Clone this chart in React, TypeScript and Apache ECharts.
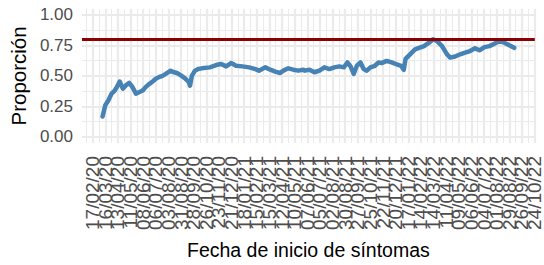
import React, { useEffect, useRef } from "react";
import * as echarts from "echarts";

const dates: string[] = [
  "2020-03-10", "2020-03-16", "2020-03-23", "2020-03-30", "2020-04-06", "2020-04-11", "2020-04-17", "2020-04-24",
  "2020-05-02", "2020-05-08", "2020-05-15", "2020-05-23", "2020-05-31", "2020-06-07", "2020-06-14", "2020-06-22",
  "2020-06-29", "2020-07-06", "2020-07-13", "2020-07-21", "2020-07-28", "2020-08-08", "2020-08-15", "2020-08-22",
  "2020-08-29", "2020-09-09", "2020-09-17", "2020-09-20", "2020-09-24", "2020-10-01", "2020-10-08", "2020-10-16",
  "2020-11-03", "2020-11-17", "2020-11-28", "2020-12-09", "2020-12-20", "2020-12-31", "2021-01-14", "2021-01-29",
  "2021-02-12", "2021-02-20", "2021-03-06", "2021-03-17", "2021-03-28", "2021-04-08", "2021-04-15", "2021-04-26",
  "2021-05-07", "2021-05-18", "2021-05-29", "2021-06-01", "2021-06-12", "2021-06-23", "2021-07-04", "2021-07-15",
  "2021-07-26", "2021-08-06", "2021-08-17", "2021-08-27", "2021-09-04", "2021-09-11", "2021-09-18", "2021-09-25",
  "2021-10-03", "2021-10-10", "2021-10-17", "2021-10-25", "2021-11-04", "2021-11-12", "2021-11-19", "2021-11-30",
  "2021-12-11", "2021-12-21", "2022-01-01", "2022-01-07", "2022-01-11", "2022-01-21", "2022-02-01", "2022-02-10",
  "2022-02-21", "2022-03-04", "2022-03-13", "2022-03-22", "2022-04-02", "2022-04-13", "2022-04-20", "2022-05-01",
  "2022-05-12", "2022-05-23", "2022-06-03", "2022-06-14", "2022-06-24", "2022-07-05", "2022-07-16", "2022-07-27",
  "2022-08-07", "2022-08-18", "2022-08-29", "2022-09-09",
];

const proporcion: number[] = [
  0.167, 0.26, 0.3, 0.355, 0.38, 0.41, 0.454, 0.395,
  0.427, 0.443, 0.41, 0.355, 0.368, 0.38, 0.41, 0.435,
  0.454, 0.476, 0.49, 0.5, 0.516, 0.543, 0.53, 0.524,
  0.508, 0.48, 0.45, 0.42, 0.5, 0.543, 0.556, 0.562,
  0.57, 0.589, 0.597, 0.578, 0.605, 0.583, 0.578, 0.57,
  0.556, 0.543, 0.57, 0.551, 0.535, 0.524, 0.543, 0.562,
  0.551, 0.543, 0.551, 0.543, 0.551, 0.53, 0.543, 0.57,
  0.556, 0.57, 0.578, 0.57, 0.61, 0.578, 0.516, 0.583,
  0.61, 0.556, 0.543, 0.57, 0.583, 0.61, 0.605, 0.623,
  0.61, 0.597, 0.583, 0.55, 0.64, 0.677, 0.718, 0.73,
  0.744, 0.772, 0.8, 0.785, 0.744, 0.677, 0.65, 0.659,
  0.677, 0.69, 0.704, 0.726, 0.71, 0.736, 0.744, 0.764,
  0.785, 0.772, 0.752, 0.73,
];

const xBreaks: string[] = [
  "2020-02-17", "2020-03-16", "2020-04-13", "2020-05-11", "2020-06-08", "2020-07-06", "2020-08-03", "2020-08-31",
  "2020-09-28", "2020-10-26", "2020-11-23", "2020-12-21", "2021-01-18", "2021-02-15", "2021-03-15", "2021-04-12",
  "2021-05-10", "2021-06-07", "2021-07-05", "2021-08-02", "2021-08-30", "2021-09-27", "2021-10-25", "2021-11-22",
  "2021-12-20", "2022-01-17", "2022-02-14", "2022-03-14", "2022-04-11", "2022-05-09", "2022-06-06", "2022-07-04",
  "2022-08-01", "2022-08-29", "2022-09-26", "2022-10-24",
];

const yBreaks: number[] = [0, 0.25, 0.5, 0.75, 1];
const meta = 0.8;

const DAY = 86400000;
const toMs = (s: string) => {
  const [y, m, d] = s.split("-").map(Number);
  return Date.UTC(y, m - 1, d);
};
const pad = (n: number) => (n < 10 ? "0" + n : "" + n);
const fmt = (v: number) => {
  const d = new Date(v);
  return pad(d.getUTCDate()) + "/" + pad(d.getUTCMonth() + 1) + "/" + pad(d.getUTCFullYear() % 100);
};

export default function App() {
  const ref = useRef<HTMLDivElement>(null);
  useEffect(() => {
    if (!ref.current) return;
    const chart = echarts.init(ref.current, null, { renderer: "svg" });
    const xs = dates.map(toMs);
    const x0 = xs[0];
    const x1 = xs[xs.length - 1];
    const span = x1 - x0;
    const xMin = x0 - span * 0.05;
    const xMax = x1 + span * 0.05;
    const majorX = xBreaks.map(toMs);
    const evenX = majorX.filter((_, i) => i % 2 === 0);
    const oddX = majorX.filter((_, i) => i % 2 === 1);
    const minorX: number[] = [];
    for (let i = -1; i < majorX.length; i++) {
      const base = i < 0 ? majorX[0] - 28 * DAY : majorX[i];
      const m = base + 14 * DAY;
      if (m > xMin && m < xMax) minorX.push(m);
    }
    const minorY: number[] = [];
    for (let i = 0; i < yBreaks.length - 1; i++) minorY.push((yBreaks[i] + yBreaks[i + 1]) / 2);

    const font = "'Liberation Sans', Arial, sans-serif";
    const xLabel = (vals: number[]) => ({
      customValues: vals,
      rotate: 90,
      margin: 13,
      formatter: (v: number) => fmt(v),
      fontFamily: font,
      fontSize: 19,
      color: "#4D4D4D",
      hideOverlap: false,
      showMinLabel: true,
      showMaxLabel: true,
    });
    chart.setOption({
      animation: false,
      backgroundColor: "#ffffff",
      grid: { left: 78.3, right: 2.3, top: 8.8, bottom: 119.8, containLabel: false },
      xAxis: [
        {
          type: "value",
          position: "bottom",
          min: xMin,
          max: xMax,
          name: "Fecha de inicio de síntomas",
          nameLocation: "middle",
          nameGap: 97,
          nameTextStyle: { fontFamily: font, fontSize: 19.5, color: "#000000" },
          axisLine: { show: false },
          axisTick: { show: false, customValues: majorX },
          axisLabel: { show: false },
          splitLine: { show: true, lineStyle: { color: "#EBEBEB", width: 2.2 } },
        },
        {
          type: "value",
          position: "bottom",
          min: xMin,
          max: xMax,
          axisLine: { show: false },
          axisLabel: { show: false },
          axisTick: { show: false, customValues: minorX },
          splitLine: { show: true, lineStyle: { color: "#EBEBEB", width: 1.1 } },
        },
        {
          type: "value",
          position: "bottom",
          min: xMin,
          max: xMax,
          axisLine: { show: false },
          axisTick: { show: false, customValues: evenX },
          axisLabel: xLabel(evenX),
          splitLine: { show: false },
        },
        {
          type: "value",
          position: "bottom",
          min: xMin,
          max: xMax,
          axisLine: { show: false },
          axisTick: { show: false, customValues: oddX },
          axisLabel: xLabel(oddX),
          splitLine: { show: false },
        },
      ],
      yAxis: [
        {
          type: "value",
          min: -0.05,
          max: 1.05,
          name: "Proporción",
          nameLocation: "middle",
          nameGap: 52,
          nameTextStyle: { fontFamily: font, fontSize: 20.5, color: "#000000" },
          axisLine: { show: false },
          axisTick: { show: false, customValues: yBreaks },
          axisLabel: {
            customValues: yBreaks,
            margin: 9,
            formatter: (v: number) => v.toFixed(2),
            fontFamily: font,
            fontSize: 17,
            color: "#4D4D4D",
            showMinLabel: true,
            showMaxLabel: true,
          },
          splitLine: { show: true, lineStyle: { color: "#EBEBEB", width: 2.2 } },
        },
        {
          type: "value",
          min: -0.05,
          max: 1.05,
          position: "left",
          axisLine: { show: false },
          axisLabel: { show: false },
          axisTick: { show: false, customValues: minorY },
          splitLine: { show: true, lineStyle: { color: "#EBEBEB", width: 1.1 } },
        },
      ],
      series: [
        {
          type: "line",
          xAxisIndex: 0,
          yAxisIndex: 0,
          data: xs.map((x, i) => [x, proporcion[i]]),
          showSymbol: false,
          symbol: "none",
          lineStyle: { color: "#4682B4", width: 4.5, cap: "round", join: "round" },
          z: 3,
          markLine: {
            silent: true,
            symbol: "none",
            label: { show: false },
            lineStyle: { color: "#8B0000", width: 3, type: "solid" },
            data: [{ yAxis: meta }],
          },
        },
      ],
    });
    return () => chart.dispose();
  }, []);
  return (
    <div
      ref={ref}
      style={{ position: "fixed", left: 0, top: 0, width: 544, height: 265 }}
    />
  );
}
